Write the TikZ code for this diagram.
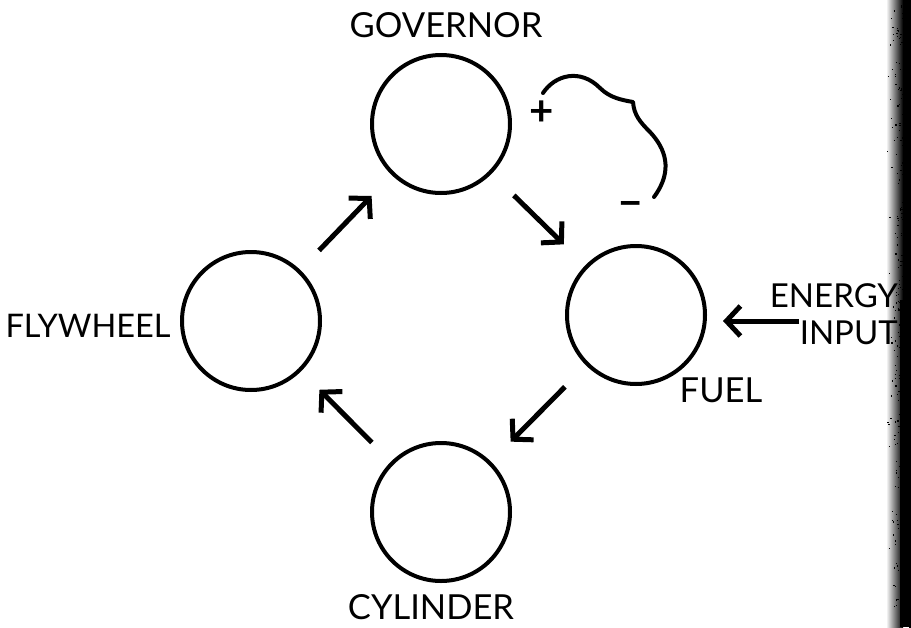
\documentclass[tikz,border=0pt]{standalone}
\usepackage{fontspec}
\setmainfont{Lato}
\usetikzlibrary{arrows.meta,calc}
\tikzset{
  stage/.style={circle,draw=black,line width=4pt,minimum size=138pt,inner sep=0pt},
  lbl/.style={font=\fontsize{34.5}{36}\selectfont,inner sep=0pt,text=black},
  flow/.style={line width=5pt,-{Straight Barb[length=14pt,width=30pt,line width=5pt]}},
  sign/.style={font=\fontsize{42}{42}\bfseries\selectfont,inner sep=0pt}
}
\begin{document}
\begin{tikzpicture}[x=1pt,y=-1pt]
\useasboundingbox (0,0) rectangle (911,627);
\fill[white] (0,0) rectangle (911,627);
% scanner edge
\fill[left color=white,right color=black] (886,0) rectangle (903,627);
\fill[black] (903,0) rectangle (911,627);
\fill[black] (900,300) rectangle (905,627);
\pgfmathsetseed{7}
\foreach \i in {1,...,700}{
  \pgfmathsetmacro{\rx}{910-24*rnd*rnd}
  \pgfmathsetmacro{\ry}{627*rnd}
  \fill[black] (\rx,\ry) rectangle ++(1.2,1.2);
}
% stages
\node[stage] (gov) at (441,124) {};
\node[stage] (fuel) at (636,315) {};
\node[stage] (cyl) at (441,512) {};
\node[stage] (fly) at (251,321) {};
% labels
\node[lbl] (tgov) at (446,25) {GOVERNOR};
\node[lbl,font=\fontsize{32.5}{34}\selectfont] (tfly) at (88,326) {FLYWHEEL};
\node[lbl] (tfuel) at (721,390) {FUEL};
\node[lbl] (tcyl) at (431,607) {CYLINDER};
\node[lbl,align=right,anchor=east,font=\fontsize{33}{37}\selectfont] (tein) at (898,314) {ENERGY\\INPUT};
% flow arrows
\draw[flow,shorten <=27pt,shorten >=29pt] (fly) -- (gov);
\draw[flow,shorten <=31pt,shorten >=30pt] (gov) -- (fuel);
\draw[flow,shorten <=30pt,shorten >=28pt] (fuel) -- (cyl);
\draw[flow,shorten <=27pt,shorten >=26pt] (cyl) -- (fly);
\coordinate (ein) at (799,321);
\draw[flow,shorten >=16pt] (ein) -- (fuel.east |- ein);
% feedback signs and loop
\node[sign] (plus) at (542,113) {+};
\node[sign] (minus) at (631,209) {−};
\coordinate (la) at (543,93);
\coordinate (lb) at (654,197);
\draw[line width=4pt,line cap=round,line join=round]
  (la) .. controls (555,75) and (580,68) .. (600,88)
  .. controls (610,98) and (622,100) .. (633,102)
  .. controls (634,115) and (640,122) .. (650,132)
  .. controls (665,148) and (674,170) .. (lb);
\end{tikzpicture}
\end{document}
